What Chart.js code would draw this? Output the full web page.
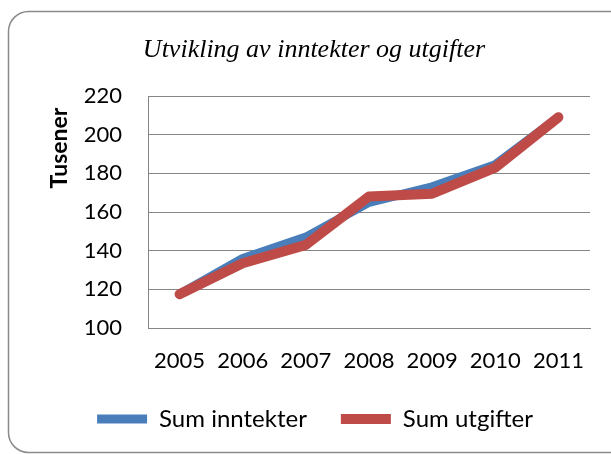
<!DOCTYPE html>
<html>
<head>
<meta charset="utf-8">
<script src="https://cdn.jsdelivr.net/npm/chart.js@4"></script>
<style>
  html, body { margin: 0; padding: 0; background: #fff; overflow: hidden; }
  #wrap { width: 611px; height: 454px; position: relative; }
</style>
</head>
<body>
<div id="wrap"><canvas id="chart"></canvas></div>
<script>
// Data
const years = ["2005", "2006", "2007", "2008", "2009", "2010", "2011"];
const inntekter = [117.5, 136, 147, 165, 173, 184.5, 209];
const utgifter = [117.5, 133.5, 143, 168, 169.5, 183, 209];
const seriesNames = ["Sum inntekter", "Sum utgifter"];
const yMin = 100;
const yMax = 220;
const yStep = 20;
const chartTitle = "Utvikling av inntekter og utgifter";
const yTitle = "Tusener";

const gridColor = "#868686";
const tickFont = { family: "Lato", size: 22 };
const legendFont = { family: "Lato", size: 24 };

// Rounded frame, italic title and the axis title placed like the original
const decorations = {
  id: "decorations",
  beforeDraw(chart) {
    const ctx = chart.ctx;
    ctx.save();
    ctx.strokeStyle = "#8a8a8a";
    ctx.lineWidth = 1.5;
    ctx.beginPath();
    ctx.roundRect(8.5, 11.5, 625, 441, 20);
    ctx.stroke();
    ctx.restore();
  },
  afterDraw(chart) {
    const ctx = chart.ctx;
    ctx.save();
    ctx.fillStyle = "#000";
    ctx.font = "italic 26px 'Liberation Serif'";
    ctx.textAlign = "center";
    ctx.textBaseline = "alphabetic";
    ctx.fillText(chartTitle, 314, 57);

    ctx.translate(60, 148);
    ctx.rotate(-Math.PI / 2);
    ctx.font = "bold 23px Lato";
    ctx.textBaseline = "middle";
    ctx.fillText(yTitle, 0, 0);
    ctx.restore();
  },
};

const ctx = document.getElementById("chart").getContext("2d");
const chart = new Chart(ctx, {
  type: "line",
  data: {
    labels: years,
    datasets: [
      {
        label: seriesNames[0],
        data: inntekter,
        borderColor: "#4a7ebb",
        backgroundColor: "#4a7ebb",
        borderWidth: 9,
        borderCapStyle: "round",
        borderJoinStyle: "round",
        pointRadius: 0,
        tension: 0,
        order: 1,
      },
      {
        label: seriesNames[1],
        data: utgifter,
        borderColor: "#be4b48",
        backgroundColor: "#be4b48",
        borderWidth: 10,
        borderCapStyle: "round",
        borderJoinStyle: "round",
        pointRadius: 0,
        tension: 0,
        order: 0,
      },
    ],
  },
  options: {
    responsive: true,
    maintainAspectRatio: false,
    animation: false,
    layout: {
      padding: { top: 96, right: 21, left: 40, bottom: 13 },
    },
    plugins: {
      title: { display: false },
      tooltip: { enabled: false },
      legend: {
        position: "bottom",
        labels: {
          font: legendFont,
          color: "#000",
          usePointStyle: true,
          pointStyle: "line",
          pointStyleWidth: 50,
          padding: 34,
          sort: (a, b) => a.datasetIndex - b.datasetIndex,
        },
      },
    },
    scales: {
      x: {
        offset: true,
        grid: { display: false, drawTicks: false },
        border: { display: true, color: gridColor, width: 1 },
        ticks: { font: tickFont, color: "#000", padding: 20, maxRotation: 0 },
        afterFit(scale) {
          scale.height = 45;
        },
      },
      y: {
        min: yMin,
        max: yMax,
        ticks: { stepSize: yStep, font: tickFont, color: "#000", padding: 26 },
        grid: { color: gridColor, lineWidth: 1, drawTicks: false },
        border: { display: true, color: gridColor, width: 1 },
        afterFit(scale) {
          scale.width = 108;
        },
      },
    },
  },
  plugins: [decorations],
});
</script>
</body>
</html>
